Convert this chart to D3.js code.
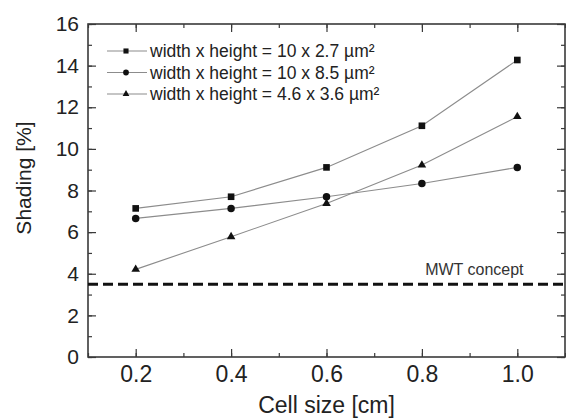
<!DOCTYPE html>
<html lang="en">
<head>
<meta charset="utf-8">
<title>Shading vs cell size</title>
<script src="https://cdn.jsdelivr.net/npm/d3@7"></script>
<style>
  body { margin: 0; background: #fff; }
  svg { display: block; background: #fff; font-family: "Liberation Sans", Arial, sans-serif; }
  .series path.link { stroke: #8c8c8c; stroke-width: 1.1; fill: none; }
</style>
</head>
<body>
<script>
// data
var cellSize = [0.2, 0.4, 0.6, 0.8, 1.0];
var shadingA = [7.14, 7.70, 9.11, 11.11, 14.27];   // 10 x 2.7
var shadingB = [6.66, 7.14, 7.70, 8.34, 9.11];     // 10 x 8.5
var shadingC = [4.21, 5.78, 7.38, 9.22, 11.55];    // 4.6 x 3.6
var seriesNames = ["width x height = 10 x 2.7 µm²", "width x height = 10 x 8.5 µm²", "width x height = 4.6 x 3.6 µm²"];
var seriesSymbols = [d3.symbolSquare, d3.symbolCircle, d3.symbolTriangle];
var mwtLevel = 3.5;
var xTicks = [0.2, 0.4, 0.6, 0.8, 1.0];
var yTicks = [0, 2, 4, 6, 8, 10, 12, 14, 16];

var W = 566, H = 420;
var m = {left: 88, top: 24, right: 1, bottom: 63};

var svg = d3.select("body").append("svg")
  .attr("width", W)
  .attr("height", H);

var x = d3.scaleLinear().domain([0.1, 1.1]).range([m.left, W - m.right]);
var y = d3.scaleLinear().domain([0, 16]).range([H - m.bottom, m.top]);

var axisColor = "#3a3a3a";

// minor ticks
var xMinor = d3.range(0.1, 1.11, 0.1).map(function(d) { return +d.toFixed(1); });
var yMinor = d3.range(0, 16.1, 1);

function styleAxis(size) {
  return function(g) {
    g.select(".domain").remove();
    g.selectAll("line").attr("stroke", axisColor).attr("stroke-width", 1.2);
    g.selectAll("text").attr("fill", "#222").style("font-size", size + "px");
  };
}

// bottom
svg.append("g").attr("transform", "translate(0," + y(0) + ")")
  .call(d3.axisBottom(x).tickValues(xMinor).tickSize(-4).tickFormat(""))
  .call(styleAxis(22));
svg.append("g").attr("transform", "translate(0," + y(0) + ")")
  .call(d3.axisBottom(x).tickValues(xTicks).tickSize(-8).tickPadding(9).tickFormat(d3.format(".1f")))
  .call(styleAxis(23));
// top
svg.append("g").attr("transform", "translate(0," + y(16) + ")")
  .call(d3.axisTop(x).tickValues(xMinor).tickSize(-4).tickFormat(""))
  .call(styleAxis(22));
svg.append("g").attr("transform", "translate(0," + y(16) + ")")
  .call(d3.axisTop(x).tickValues(xTicks).tickSize(-8).tickFormat(""))
  .call(styleAxis(22));
// left
svg.append("g").attr("transform", "translate(" + x(0.1) + ",0)")
  .call(d3.axisLeft(y).tickValues(yMinor).tickSize(-4).tickFormat(""))
  .call(styleAxis(21));
svg.append("g").attr("transform", "translate(" + x(0.1) + ",0)")
  .call(d3.axisLeft(y).tickValues(yTicks).tickSize(-8).tickPadding(9).tickFormat(d3.format("d")))
  .call(styleAxis(21));
// right
svg.append("g").attr("transform", "translate(" + x(1.1) + ",0)")
  .call(d3.axisRight(y).tickValues(yMinor).tickSize(-4).tickFormat(""))
  .call(styleAxis(21));
svg.append("g").attr("transform", "translate(" + x(1.1) + ",0)")
  .call(d3.axisRight(y).tickValues(yTicks).tickSize(-8).tickFormat(""))
  .call(styleAxis(21));

// frame
svg.append("rect")
  .attr("x", x(0.1)).attr("y", y(16))
  .attr("width", x(1.1) - x(0.1)).attr("height", y(0) - y(16))
  .attr("fill", "none").attr("stroke", axisColor).attr("stroke-width", 1.6);

// MWT line
svg.append("line")
  .attr("x1", x(0.1)).attr("x2", x(1.1))
  .attr("y1", y(mwtLevel)).attr("y2", y(mwtLevel))
  .attr("stroke", "#111").attr("stroke-width", 3)
  .attr("stroke-dasharray", "10,5");
svg.append("text")
  .attr("x", x(0.91)).attr("y", y(mwtLevel) - 9)
  .attr("text-anchor", "middle")
  .style("font-size", "16px").attr("fill", "#333")
  .text("MWT concept");

// series
var allSeries = [shadingA, shadingB, shadingC];
var line = d3.line().x(function(d, i) { return x(cellSize[i]); }).y(function(d) { return y(d); });
var symSizes = [44, 44, 32];

allSeries.forEach(function(vals, k) {
  var g = svg.append("g").attr("class", "series");
  g.append("path").attr("class", "link").attr("d", line(vals));
  g.selectAll("path.pt").data(vals).enter().append("path")
    .attr("class", "pt")
    .attr("transform", function(d, i) { return "translate(" + x(cellSize[i]) + "," + y(d) + ")"; })
    .attr("d", d3.symbol().type(seriesSymbols[k]).size(symSizes[k]))
    .attr("fill", "#111");
});

// legend
var legend = svg.append("g");
var legSizes = [26, 26, 20];
seriesNames.forEach(function(name, k) {
  var ly = 51 + k * 21.5;
  legend.append("line").attr("x1", 107).attr("x2", 147).attr("y1", ly).attr("y2", ly)
    .attr("stroke", "#8c8c8c").attr("stroke-width", 1.1);
  legend.append("path").attr("transform", "translate(126," + ly + ")")
    .attr("d", d3.symbol().type(seriesSymbols[k]).size(legSizes[k])).attr("fill", "#111");
  legend.append("text").attr("x", 150).attr("y", ly + 6)
    .style("font-size", "17.5px").attr("fill", "#222").text(name);
});

// axis titles
svg.append("text")
  .attr("x", x(0.6)).attr("y", 413)
  .attr("text-anchor", "middle").style("font-size", "23px").attr("fill", "#222")
  .text("Cell size [cm]");
svg.append("text")
  .attr("transform", "translate(24," + 178 + ") rotate(-90)")
  .attr("dy", "0.35em")
  .attr("text-anchor", "middle").style("font-size", "21px").attr("fill", "#222")
  .text("Shading [%]");
</script>
</body>
</html>
